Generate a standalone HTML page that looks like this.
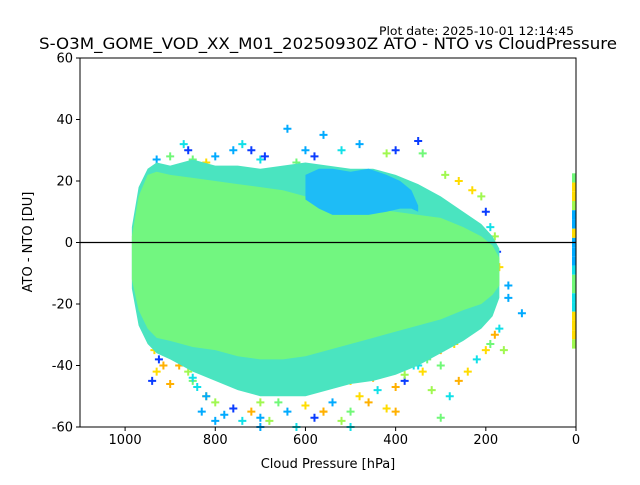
<!DOCTYPE html>
<html><head><meta charset="utf-8"><style>
body{margin:0;background:#fff;}
svg text{font-family:"DejaVu Sans","Liberation Sans",sans-serif;}
</style></head><body>
<svg id="chart" width="640" height="480" xmlns="http://www.w3.org/2000/svg">
<rect width="640" height="480" fill="#fff"/>
<text x="379" y="35" font-size="11.5" textLength="195" lengthAdjust="spacingAndGlyphs">Plot date: 2025-10-01 12:14:45</text>
<text x="39" y="49" font-size="16" textLength="578" lengthAdjust="spacingAndGlyphs">S-O3M_GOME_VOD_XX_M01_20250930Z ATO - NTO vs CloudPressure</text>
<g id="plot"></g>
<g id="axes"></g>
<text x="328" y="468" font-size="13" text-anchor="middle">Cloud Pressure [hPa]</text>
<text x="32" y="242" font-size="13" text-anchor="middle" transform="rotate(-90 32 242)">ATO - NTO [DU]</text>
</svg>
<script>
// envelope data (pressure hPa, DU)
const pressures = [985, 970, 950, 930, 900, 850, 800, 750, 700, 650, 600, 550, 500, 450, 400, 350, 300, 250, 210, 185, 170];
const outerTop = [5, 18, 24, 26, 25, 27, 25, 25, 24, 25, 26, 25, 24, 24, 22, 19, 15, 10, 6, 2, -2];
const outerBottom = [-15, -27, -33, -36, -38, -42, -45, -48, -50, -50, -50, -48, -46, -45, -43, -40, -36, -32, -28, -24, -18];
const coreTop = [2, 15, 22, 23, 22, 21, 20, 19, 18, 17, 15, 14, 12, 11, 10, 9, 8, 5, 2, -1, -5];
const coreBottom = [-12, -22, -28, -31, -32, -34, -35, -37, -38, -38, -37, -35, -33, -31, -29, -27, -25, -22, -20, -17, -14];
const cyanP = [600, 570, 540, 500, 460, 420, 390, 365, 350];
const cyanTop = [22, 24, 24, 23, 24, 22, 20, 17, 12];
const cyanBottom = [14, 11, 9, 9, 9, 10, 11, 11, 10];
// outlier markers: pressure, value, color index
const outP = [930,900,870,860,850,820,800,760,740,720,700,690,640,620,600,580,560,520,480,420,400,350,340,290,260,230,210,200,190,180,175,170,150,120,
 960,950,945,920,900,880,860,850,840,830,820,800,780,760,740,720,700,680,660,640,620,600,580,560,540,520,500,480,460,440,420,400,380,360,340,320,300,280,260,240,220,200,190,180,170,160,150,
 940,930,900,850,820,760,700,650,600,560,500,450,400,380,350,330,300,270,250,
 955,945,935,925,915,800,700,500,400,300];
const outV = [27,28,32,30,27,26,28,30,32,30,27,28,37,26,30,28,35,30,32,29,30,33,29,22,20,17,15,10,5,2,-3,-8,-14,-23,
 -5,-10,-15,-30,-35,-40,-42,-45,-47,-55,-50,-52,-56,-54,-58,-55,-57,-58,-52,-55,-60,-53,-57,-55,-52,-58,-55,-50,-52,-48,-54,-47,-45,-40,-42,-48,-57,-50,-45,-42,-38,-35,-33,-30,-28,-35,-18,
 -45,-42,-46,-44,-50,-43,-52,-48,-47,-55,-45,-44,-41,-43,-40,-38,-35,-33,-30,
 -8,-20,-35,-38,-40,-58,-60,-60,-55,-40];
const outC = [1,3,2,0,3,5,1,1,2,0,2,0,1,3,1,0,1,2,1,4,0,0,3,4,5,5,4,0,2,4,0,5,1,1,
 5,2,6,0,0,6,4,3,2,1,5,4,1,0,2,6,1,4,3,1,2,5,0,6,1,4,3,5,6,2,5,6,0,2,5,4,3,2,6,5,2,5,3,6,2,4,1,
 0,5,6,2,1,6,4,5,3,6,5,6,5,4,2,3,6,5,4,
 2,6,5,0,6,1,1,2,6,3];
const stripV = [21,18,15,12,9,6,3,0,-3,-6,-9,-12,-15,-18,-21,-24,-27,-30,-33];
const stripC = [3,5,5,4,1,1,5,1,1,1,2,3,3,2,2,5,5,5,4];
const xTicks = [1000,800,600,400,200,0];
const yTicks = [60,40,20,0,-20,-40,-60];

const colors = ['#0a3cff','#00aaff','#10e0e8','#70f878','#a0f850','#ffdc00','#ffb000'];
const X0=80, X1=576, Y0=58, Y1=427;
const xs = p => X1 - (p/1100)*(X1-X0);
const ys = v => Y0 + (60-v)/120*(Y1-Y0);
const NS='http://www.w3.org/2000/svg';
const plot=document.getElementById('plot'), axes=document.getElementById('axes');
function mk(tag, attrs, parent){const e=document.createElementNS(NS,tag);for(const k in attrs)e.setAttribute(k,attrs[k]);parent.appendChild(e);return e;}
function band(P,T,B,fill,name){
  let pts=P.map((p,i)=>xs(p)+','+ys(T[i]));
  pts=pts.concat(P.slice().reverse().map((p,j)=>xs(p)+','+ys(B[P.length-1-j])));
  const e=mk('polygon',{points:pts.join(' '),fill:fill,'stroke-linejoin':'round'},plot);
  
  
}
mk('rect',{x:X0,y:Y0,width:X1-X0,height:Y1-Y0,fill:'#fff'},plot);
function marker(p,v,c,name){
  const x=xs(p), y=ys(v);
  const e=mk('path',{d:`M${x-4},${y}H${x+4}M${x},${y-4}V${y+4}`,stroke:colors[c],'stroke-width':2},plot);
  
  
}
for(let i=0;i<outP.length;i++) marker(outP[i],outV[i],outC[i],'outlier-point');
band(pressures,outerTop,outerBottom,'#4ae4c0','outer-envelope');
band(pressures,coreTop,coreBottom,'#72f680','core-density');
band(cyanP,cyanTop,cyanBottom,'#1ebcf6','cyan-cluster');
for(let i=0;i<stripV.length;i++){
  const r=mk('rect',{x:X1-4,y:ys(stripV[i]+1.5),width:4,height:ys(stripV[i]-1.5)-ys(stripV[i]+1.5),fill:colors[stripC[i]]},plot);
  
  
}
const zl=mk('line',{x1:X0,x2:X1,y1:ys(0),y2:ys(0),stroke:'#000','stroke-width':1.2},axes);


const fr=mk('rect',{x:X0,y:Y0,width:X1-X0,height:Y1-Y0,fill:'none',stroke:'#000','stroke-width':1},axes);


xTicks.forEach(t=>{
  mk('line',{x1:xs(t),x2:xs(t),y1:Y1,y2:Y1+4,stroke:'#000'},axes);
  const tx=mk('text',{x:xs(t),y:Y1+17,'font-size':13,'text-anchor':'middle'},axes);
  tx.textContent=t;
  
  
});
yTicks.forEach(t=>{
  mk('line',{x1:X0-4,x2:X0,y1:ys(t),y2:ys(t),stroke:'#000'},axes);
  const tx=mk('text',{x:X0-7,y:ys(t)+4.5,'font-size':13,'text-anchor':'end'},axes);
  tx.textContent=t;
  
  
});
</script>
</body></html>
